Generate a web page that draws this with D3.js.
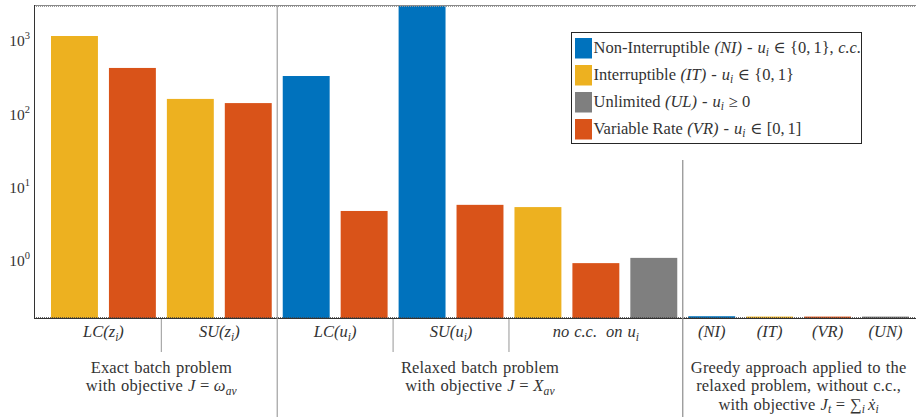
<!DOCTYPE html>
<html>
<head>
<meta charset="utf-8">
<script src="https://cdn.jsdelivr.net/npm/d3@7/dist/d3.min.js"></script>
<style>
  html, body { margin: 0; padding: 0; background: #fff; }
  svg { display: block; }
  text { font-family: "Liberation Serif", "DejaVu Serif", serif; fill: #333; }
</style>
</head>
<body>
<svg id="chart" width="916" height="417"></svg>
<script>
// ---- data ----------------------------------------------------------------
const slotIds   = ["LCz-IT", "LCz-VR", "SUz-IT", "SUz-VR",
                   "LCu-NI", "LCu-VR", "SUu-NI", "SUu-VR",
                   "free-IT", "free-VR", "free-UL",
                   "gr-NI", "gr-IT", "gr-VR", "gr-UL"];
const slotSeries = ["IT", "VR", "IT", "VR",
                    "NI", "VR", "NI", "VR",
                    "IT", "VR", "UL",
                    "NI", "IT", "VR", "UL"];
const slotValues = [1170, 430, 163, 143,
                    334, 4.87, 3600, 5.9,
                    5.5, 0.95, 1.12,
                    0.18, 0.178, 0.178, 0.178];

const seriesKeys   = ["NI", "IT", "UL", "VR"];
const seriesColors = ["#0072BD", "#EDB120", "#7F7F7F", "#D95319"];

const yTickExponents = [0, 1, 2, 3];

// text pieces: [text, kind, extra space before (px)]
// kind: "r" roman, "i" italic, "sub" italic subscript
const catLabels = [
  [0, 1,  [["LC(", "i"], ["z", "i"], ["i", "sub"], [")", "i"]]],
  [2, 3,  [["SU(", "i"], ["z", "i"], ["i", "sub"], [")", "i"]]],
  [4, 5,  [["LC(", "i"], ["u", "i"], ["i", "sub"], [")", "i"]]],
  [6, 7,  [["SU(", "i"], ["u", "i"], ["i", "sub"], [")", "i"]]],
  [8, 10, [["no", "i"], ["c.c.", "i", 5], ["on", "i", 9], ["u", "i", 5], ["i", "sub"]]],
  [11, 11, [["(NI)", "i"]]],
  [12, 12, [["(IT)", "i"]]],
  [13, 13, [["(VR)", "i"]]],
  [14, 14, [["(UN)", "i"]]]
];
const catDividers = [[1, 2], [5, 6], [7, 8]];

const groupLabels = [
  [0, 3, [
    [["Exact batch problem", "r"]],
    [["with objective", "r"], ["J", "i", 5], ["=", "r", 4.5], ["ω", "i", 4.5], ["av", "sub"]]
  ]],
  [4, 10, [
    [["Relaxed batch problem", "r"]],
    [["with objective", "r"], ["J", "i", 5], ["=", "r", 4.5], ["X", "i", 4.5], ["av", "sub"]]
  ]],
  [11, 14, [
    [["Greedy approach applied to the", "r"]],
    [["relaxed problem, without c.c.,", "r"]],
    [["with objective", "r"], ["J", "i", 5], ["t", "sub"], ["=", "r", 4.5], ["∑", "r", 4.5], ["i", "sub"], ["ẋ", "i", 3], ["i", "sub"]]
  ]]
];

const legendRows = [
  [["Non-Interruptible", "r"], ["(NI)", "i", 4.5], ["-", "r", 5], ["u", "i", 5], ["i", "sub"], ["∈", "r", 4.5], ["{0,", "r", 4.5], ["1},", "r", 3], ["c.c.", "i", 4.5]],
  [["Interruptible", "r"], ["(IT)", "i", 4.5], ["-", "r", 5], ["u", "i", 5], ["i", "sub"], ["∈", "r", 4.5], ["{0,", "r", 4.5], ["1}", "r", 3]],
  [["Unlimited", "r"], ["(UL)", "i", 4.5], ["-", "r", 5], ["u", "i", 5], ["i", "sub"], ["≥", "r", 4.5], ["0", "r", 4.5]],
  [["Variable Rate", "r"], ["(VR)", "i", 4.5], ["-", "r", 5], ["u", "i", 5], ["i", "sub"], ["∈", "r", 4.5], ["[0,", "r", 4.5], ["1]", "r", 3]]
];

const FS = 16.5;

// ---- layout --------------------------------------------------------------
const plot = { left: 34, top: 5, bottom: 318, right: 916 };
const svg = d3.select("#chart");

const x = d3.scaleBand()
  .domain(slotIds)
  .range([45.5, 914.5])
  .paddingInner(0.19)
  .paddingOuter(0.095);

const y = d3.scaleLog()
  .domain([0.1703, 3090])
  .range([plot.bottom, plot.top]);

const color = d3.scaleOrdinal().domain(seriesKeys).range(seriesColors);

const center = i => x(slotIds[i]) + x.bandwidth() / 2;
const between = (a, b) => (center(a) + center(b)) / 2;

// writes a sequence of roman / italic / subscript pieces into a text node
function mathText(sel, parts, size) {
  const drop = size * 0.22;
  parts.forEach(([t, kind, gap], k) => {
    const ts = sel.append("tspan").text(t);
    if (kind === "i") ts.attr("font-style", "italic");
    let dy = 0;
    if (kind === "sub") {
      ts.attr("font-style", "italic").attr("font-size", size * 0.7);
      dy = drop;
    }
    const prev = k > 0 ? parts[k - 1][1] : null;
    if (prev === "sub" && kind !== "sub") dy = -drop;
    if (dy) ts.attr("dy", dy);
    if (gap) ts.attr("dx", gap);
  });
  return sel;
}

// ---- bars ----------------------------------------------------------------
svg.append("clipPath").attr("id", "plotClip")
  .append("rect")
  .attr("x", plot.left).attr("y", plot.top)
  .attr("width", plot.right - plot.left)
  .attr("height", plot.bottom - plot.top);

svg.append("g").attr("clip-path", "url(#plotClip)")
  .selectAll("rect")
  .data(slotValues)
  .join("rect")
  .attr("x", (d, i) => x(slotIds[i]))
  .attr("width", x.bandwidth())
  .attr("y", d => y(d))
  .attr("height", d => plot.bottom - y(d))
  .attr("fill", (d, i) => color(slotSeries[i]));

// ---- axes frame ----------------------------------------------------------
const frame = svg.append("g");
frame.append("line")
  .attr("x1", plot.left).attr("x2", plot.right)
  .attr("y1", plot.top + 0.5).attr("y2", plot.top + 0.5)
  .attr("stroke", "#8a8a8a").attr("stroke-width", 1);
frame.append("line")
  .attr("x1", plot.left).attr("x2", plot.right)
  .attr("y1", plot.top + 1.5).attr("y2", plot.top + 1.5)
  .attr("stroke", "#9a9a9a").attr("stroke-width", 1)
  .attr("stroke-dasharray", "1,1");
frame.append("line")
  .attr("x1", plot.left).attr("x2", plot.right)
  .attr("y1", plot.bottom + 0.5).attr("y2", plot.bottom + 0.5)
  .attr("stroke", "#333").attr("stroke-width", 1);
frame.append("line")
  .attr("x1", plot.left).attr("x2", plot.right)
  .attr("y1", plot.bottom - 0.5).attr("y2", plot.bottom - 0.5)
  .attr("stroke", "#444").attr("stroke-width", 1)
  .attr("stroke-dasharray", "1,1").attr("opacity", 0.8);
frame.append("line")
  .attr("x1", plot.left + 0.5).attr("x2", plot.left + 0.5)
  .attr("y1", plot.top).attr("y2", plot.bottom + 1)
  .attr("stroke", "#333").attr("stroke-width", 1);

// y tick labels (powers of ten)
const yLab = svg.append("g").selectAll("text")
  .data(yTickExponents)
  .join("text")
  .attr("x", 30)
  .attr("y", e => y(Math.pow(10, e)) + 5)
  .attr("text-anchor", "end")
  .attr("font-size", 15.5);
yLab.append("tspan").text("10");
yLab.append("tspan").text(e => e)
  .attr("font-size", 10.5)
  .attr("dy", -7);

// ---- dividers ------------------------------------------------------------
svg.append("line")
  .attr("x1", between(3, 4)).attr("x2", between(3, 4))
  .attr("y1", plot.top).attr("y2", 417)
  .attr("stroke", "#a0a0a0").attr("stroke-width", 1.2);
svg.append("line")
  .attr("x1", between(10, 11)).attr("x2", between(10, 11))
  .attr("y1", 160).attr("y2", 417)
  .attr("stroke", "#8c8c8c").attr("stroke-width", 1.2);

svg.append("g").selectAll("line")
  .data(catDividers)
  .join("line")
  .attr("x1", d => between(d[0], d[1])).attr("x2", d => between(d[0], d[1]))
  .attr("y1", plot.bottom + 1).attr("y2", 352)
  .attr("stroke", "#a8a8a8").attr("stroke-width", 1.2);

// ---- category labels -----------------------------------------------------
catLabels.forEach(([a, b, parts]) => {
  const t = svg.append("text")
    .attr("x", (center(a) + center(b)) / 2)
    .attr("y", 337)
    .attr("text-anchor", "middle")
    .attr("font-size", FS);
  mathText(t, parts, FS);
});

// ---- group labels --------------------------------------------------------
groupLabels.forEach(([a, b, lines]) => {
  lines.forEach((parts, li) => {
    const t = svg.append("text")
      .attr("x", (center(a) + center(b)) / 2)
      .attr("y", 373 + li * 18.3)
      .attr("text-anchor", "middle")
      .attr("font-size", FS)
      .attr("word-spacing", 1)
      .attr("letter-spacing", 0.15);
    mathText(t, parts, FS);
  });
});

// ---- legend --------------------------------------------------------------
const lg = svg.append("g");
lg.append("rect")
  .attr("x", 571.5).attr("y", 32.5)
  .attr("width", 290).attr("height", 111)
  .attr("fill", "#fff").attr("stroke", "#262626").attr("stroke-width", 1);

const rows = lg.selectAll("g.row")
  .data(seriesKeys)
  .join("g")
  .attr("class", "row")
  .attr("transform", (d, i) => `translate(0, ${38 + i * 27})`);
rows.append("rect")
  .attr("x", 575).attr("y", 0)
  .attr("width", 17).attr("height", 20.5)
  .attr("fill", d => color(d));
rows.each(function (d, i) {
  const t = d3.select(this).append("text")
    .attr("x", 593.5).attr("y", 14.5)
    .attr("font-size", FS);
  mathText(t, legendRows[i], FS);
});
</script>
</body>
</html>
